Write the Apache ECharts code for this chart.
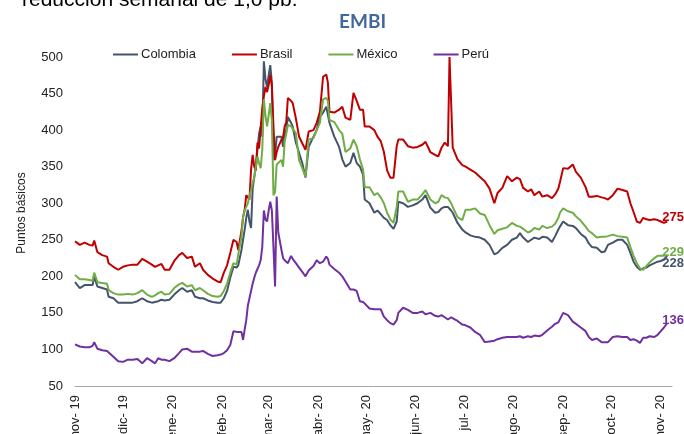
<!DOCTYPE html>
<html><head><meta charset="utf-8">
<script src="https://cdn.jsdelivr.net/npm/echarts@6/dist/echarts.min.js"></script>
<style>html,body{margin:0;padding:0;background:#fff}#c{width:684px;height:434px}</style>
</head><body><div id="c"></div>
<script>
const dates = [
'2019-11-01','2019-11-04','2019-11-07','2019-11-10','2019-11-12','2019-11-13','2019-11-15','2019-11-18','2019-11-21','2019-11-22',
'2019-11-25','2019-11-28','2019-12-01','2019-12-04','2019-12-07','2019-12-10','2019-12-13','2019-12-16','2019-12-19','2019-12-21',
'2019-12-23','2019-12-25','2019-12-27','2019-12-30','2020-01-02','2020-01-05','2020-01-07','2020-01-10','2020-01-13','2020-01-15',
'2020-01-18','2020-01-20','2020-01-23','2020-01-26','2020-01-29','2020-01-31','2020-02-02','2020-02-04','2020-02-06','2020-02-08',
'2020-02-10','2020-02-11','2020-02-13','2020-02-14','2020-02-15','2020-02-16','2020-02-17','2020-02-18','2020-02-19','2020-02-20',
'2020-02-21','2020-02-22','2020-02-23','2020-02-24','2020-02-25','2020-02-26','2020-02-27','2020-02-28','2020-02-29','2020-03-01',
'2020-03-02','2020-03-03','2020-03-04','2020-03-05','2020-03-06','2020-03-07','2020-03-09','2020-03-10','2020-03-11','2020-03-12',
'2020-03-13','2020-03-15','2020-03-16','2020-03-18','2020-03-20','2020-03-22','2020-03-24','2020-03-26','2020-03-29','2020-03-31',
'2020-04-02','2020-04-04','2020-04-06','2020-04-07','2020-04-08','2020-04-11','2020-04-14','2020-04-16','2020-04-18','2020-04-21',
'2020-04-23','2020-04-25','2020-04-27','2020-04-29','2020-04-30','2020-05-03','2020-05-06','2020-05-08','2020-05-10','2020-05-12',
'2020-05-14','2020-05-16','2020-05-18','2020-05-20','2020-05-21','2020-05-24','2020-05-27','2020-05-30','2020-06-02','2020-06-05',
'2020-06-07','2020-06-10','2020-06-13','2020-06-15','2020-06-17','2020-06-19','2020-06-21','2020-06-22','2020-06-23','2020-06-24',
'2020-06-27','2020-06-30','2020-07-02','2020-07-05','2020-07-08','2020-07-11','2020-07-14','2020-07-17','2020-07-20','2020-07-22',
'2020-07-25','2020-07-28','2020-07-31','2020-08-03','2020-08-05','2020-08-07','2020-08-10','2020-08-12','2020-08-14','2020-08-17',
'2020-08-19','2020-08-22','2020-08-25','2020-08-27','2020-08-29','2020-08-30','2020-09-01','2020-09-04','2020-09-07','2020-09-09',
'2020-09-12','2020-09-15','2020-09-17','2020-09-19','2020-09-22','2020-09-25','2020-09-27','2020-09-29','2020-10-02','2020-10-05',
'2020-10-08','2020-10-11','2020-10-13','2020-10-15','2020-10-17','2020-10-19','2020-10-21','2020-10-23','2020-10-25','2020-10-28',
'2020-10-30','2020-11-01','2020-11-03','2020-11-05'];

const colombia = [
192,184,188,188,188,200,186,184,182,172,
170,164,164,164,164,166,170,166,164,165,
166,168,167,168,175,181,184,179,181,172,
170,170,167,165,164,164,170,180,198,213,
212,215,236,250,264,280,291,275,266,320,
336,350,373,395,405,391,494,470,459,475,
489,465,359,365,391,391,391,377,395,400,
418,410,405,383,369,355,335,377,391,400,
418,424,432,430,410,391,377,360,350,355,
369,355,350,339,305,300,287,290,285,280,
277,270,265,275,302,300,295,297,300,305,
311,294,287,288,293,295,295,295,290,287,
273,264,260,256,254,253,250,243,230,232,
239,243,250,253,259,253,247,250,253,251,
254,253,247,255,264,268,275,270,269,266,
258,253,245,240,239,233,234,243,246,250,
250,243,232,220,213,209,211,212,215,218,
220,221,223,228];

const brasil = [
248,243,246,243,242,249,233,229,227,218,
213,209,213,215,216,216,224,220,216,213,
215,217,209,209,221,229,232,225,227,213,
218,209,202,197,193,192,205,215,232,250,
247,236,262,281,291,311,311,305,346,366,
350,345,383,375,373,430,446,459,452,462,
476,460,405,359,370,377,387,390,405,411,
444,440,437,416,391,382,373,398,400,410,
425,473,476,465,425,424,428,432,417,414,
451,440,428,428,405,405,400,391,385,370,
345,335,335,378,387,387,378,376,377,380,
384,370,366,364,376,383,378,500,500,376,
360,352,350,346,342,336,330,320,300,314,
321,337,330,335,333,321,316,319,311,316,
309,311,307,312,320,329,348,347,353,343,
335,322,309,309,310,308,307,305,311,320,
318,316,300,288,275,273,280,278,277,278,
277,275,273,275];

const mexico = [
202,196,196,195,194,205,192,191,190,181,
177,175,175,176,175,177,181,175,172,174,
177,179,175,176,184,189,191,186,188,181,
184,181,176,173,172,173,180,190,205,218,
216,230,254,281,290,295,300,310,318,328,
335,350,364,355,348,373,442,420,405,420,
437,414,311,315,353,353,359,350,384,395,
407,405,405,396,359,348,336,387,389,400,
410,442,444,440,414,411,400,395,370,375,
387,378,360,346,322,322,311,314,308,300,
287,278,273,295,316,316,302,305,305,312,
318,305,300,302,311,308,307,306,300,295,
281,277,291,291,293,286,284,270,258,263,
265,267,273,269,268,265,260,262,266,264,
269,266,268,272,280,287,293,289,287,282,
276,268,262,259,253,254,254,255,257,255,
254,253,240,228,218,211,209,214,219,225,
228,228,228,229];

const peru = [
107,104,103,103,105,110,101,99,98,96,
90,84,83,86,86,87,81,88,84,81,
88,86,86,84,88,95,100,101,97,97,
97,98,94,91,92,93,95,99,106,125,
124,122,124,113,127,140,160,170,180,190,
198,205,210,215,222,240,290,278,275,290,
302,290,240,186,309,260,236,225,222,220,
218,228,224,218,212,206,200,208,214,222,
218,220,227,224,216,210,205,200,193,182,
182,180,166,165,165,156,155,155,155,145,
140,136,134,140,150,157,154,150,150,152,
148,150,146,145,147,144,141,142,144,143,
139,134,133,130,124,120,110,111,112,114,
116,117,117,117,118,116,118,117,119,118,
120,126,131,135,137,135,150,147,138,135,
130,125,117,113,115,110,110,110,117,118,
117,117,113,114,112,109,116,116,118,117,
120,125,130,136];

const seriesNames = ['Colombia','Brasil','México','Perú'];
const seriesColors = ['#44546A','#C00000','#70AD47','#7030A0'];
const monthNames = ['ene','feb','mar','abr','may','jun','jul','ago','sep','oct','nov','dic'];
const axisStart = '2019-11-01', axisEnd = '2020-11-08';

// category axis: one slot per calendar day
const cats = [];
for (let t = Date.parse(axisStart + 'T00:00:00Z'); t <= Date.parse(axisEnd + 'T00:00:00Z'); t += 86400000) {
  cats.push(new Date(t).toISOString().slice(0, 10));
}
const catIndex = {};
cats.forEach((c, i) => catIndex[c] = i);
const pairs = vals => dates.map((d, i) => [catIndex[d], vals[i]]);

const allVals = [colombia, brasil, mexico, peru];
const labelOffsets = [[-5, 8], [-5, -4], [-5, -3], [-5, -3]];
const FONT = '"Liberation Sans", Arial, sans-serif';

const chart = echarts.init(document.getElementById('c'), null, {renderer: 'canvas'});
chart.setOption({
  animation: false,
  backgroundColor: '#fff',
  title: {
    text: 'EMBI', left: 334, top: 7,
    textStyle: {fontFamily: 'Lato, "Open Sans", sans-serif', fontWeight: 'bold', fontSize: 19, color: '#41689C'}
  },
  graphic: [
    {type: 'text', left: 22, top: -10, style: {text: 'reducción semanal de 1,0 pb.', font: '21px "Liberation Sans", Arial, sans-serif', fill: '#000'}},
    {type: 'text', x: 22, y: 213, rotation: Math.PI / 2, style: {text: 'Puntos básicos', font: '12px "Liberation Sans", Arial, sans-serif', fill: '#222', align: 'center', verticalAlign: 'middle'}}
  ],
  legend: {
    data: seriesNames, left: 108, top: 43, icon: 'rect', itemWidth: 25, itemHeight: 2, itemGap: 36,
    textStyle: {fontFamily: FONT, fontSize: 13, color: '#222', padding: [0, 0, 0, -2]}
  },
  grid: {left: 75, right: 12, top: 57, bottom: 48, containLabel: false, outerBoundsMode: 'none'},
  xAxis: {
    type: 'category', data: cats, boundaryGap: false,
    axisLine: {lineStyle: {color: '#A6A6A6', width: 1}},
    axisTick: {show: false},
    axisLabel: {
      interval: (i, v) => v.slice(8) === '01',
      rotate: 90, margin: 9, fontFamily: FONT, fontSize: 13, color: '#222',
      formatter: v => monthNames[+v.slice(5, 7) - 1] + '- ' + v.slice(2, 4)
    }
  },
  yAxis: {
    type: 'value', min: 50, max: 500, interval: 50,
    axisLine: {show: false}, axisTick: {show: false}, splitLine: {show: false},
    axisLabel: {fontFamily: FONT, fontSize: 13, color: '#222', margin: 12}
  },
  series: seriesNames.map((n, k) => ({
    name: n, type: 'line', data: pairs(allVals[k]), showSymbol: false, symbol: 'none',
    lineStyle: {width: 2, color: seriesColors[k]}, itemStyle: {color: seriesColors[k]},
    endLabel: {
      show: true, distance: 0, offset: labelOffsets[k],
      formatter: p => String(p.value[1]),
      fontFamily: FONT, fontWeight: 'bold', fontSize: 13, color: seriesColors[k]
    }
  }))
});
</script>
</body></html>
